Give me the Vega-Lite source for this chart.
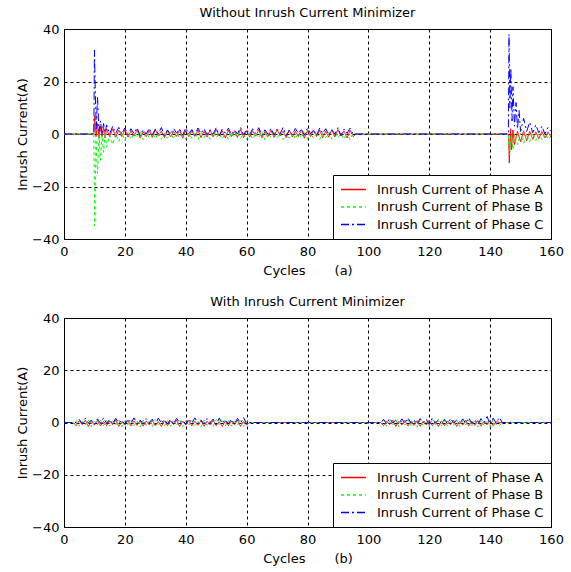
{
"$schema":"https://vega.github.io/schema/vega-lite/v6.json",
"background":"white",
"padding":{"left":16,"top":6,"right":14,"bottom":5},
"config":{
"font":"DejaVu Sans",
"view":{"stroke":"black","strokeWidth":1},
"axis":{"domain":false,"ticks":false,"grid":true,"gridColor":"black","gridDash":[3,3],"gridOpacity":1,"gridWidth":1,"labelFontSize":13,"labelColor":"black","titleFontSize":13,"titleFontWeight":"normal","titleColor":"black","labelFont":"DejaVu Sans","titleFont":"DejaVu Sans","labelFlush":false},
"title":{"fontSize":13,"fontWeight":"normal","color":"black","offset":3,"font":"DejaVu Sans"},
"legend":{"title":null,"orient":"bottom-right","offset":0,"symbolType":"stroke","symbolSize":625,"symbolStrokeWidth":1.5,"strokeColor":"black","fillColor":"white","padding":7,"labelFontSize":13,"labelColor":"black","labelFont":"DejaVu Sans","labelLimit":0,"clipHeight":15,"rowPadding":2.5,"labelOffset":10,"cornerRadius":0},
"concat":{"spacing":17}
},
"datasets":{
"a":[
{"s":"A","x":0,"y":0},{"s":"A","x":9.8,"y":0},{"s":"A","x":10.1,"y":7},{"s":"A","x":10.5,"y":-1},{"s":"A","x":11,"y":4},{"s":"A","x":11.5,"y":-1.5},{"s":"A","x":12,"y":3},{"s":"A","x":12.5,"y":-1},{"s":"A","x":13,"y":2.5},{"s":"A","x":13.5,"y":-1.5},{"s":"A","x":14,"y":2},{"s":"A","x":15,"y":-1},{"s":"A","x":16,"y":2},{"s":"A","x":17,"y":-1.2},{"s":"A","x":18,"y":1.5},{"s":"A","x":19,"y":-1},{"s":"A","x":20,"y":1.6},
{"s":"A","x":21,"y":-1.2},{"s":"A","x":22,"y":1.2},{"s":"A","x":23,"y":-0.8},{"s":"A","x":24,"y":1.6},{"s":"A","x":25,"y":-1.5},{"s":"A","x":26,"y":0.9},{"s":"A","x":27,"y":-1.0},{"s":"A","x":28,"y":1.4},{"s":"A","x":29,"y":-1.3},{"s":"A","x":30,"y":1.8},{"s":"A","x":31,"y":-0.7},{"s":"A","x":32,"y":1.1},{"s":"A","x":33,"y":-1.4},{"s":"A","x":34,"y":1.5},{"s":"A","x":35,"y":-1.1},{"s":"A","x":36,"y":1.0},{"s":"A","x":37,"y":-0.9},{"s":"A","x":38,"y":1.7},{"s":"A","x":39,"y":-1.6},{"s":"A","x":40,"y":1.3},
{"s":"A","x":41,"y":-1.0},{"s":"A","x":42,"y":1.3},{"s":"A","x":43,"y":-0.9},{"s":"A","x":44,"y":1.5},{"s":"A","x":45,"y":-1.4},{"s":"A","x":46,"y":1.0},{"s":"A","x":47,"y":-1.2},{"s":"A","x":48,"y":1.6},{"s":"A","x":49,"y":-1.1},{"s":"A","x":50,"y":1.7},{"s":"A","x":51,"y":-0.8},{"s":"A","x":52,"y":1.2},{"s":"A","x":53,"y":-1.5},{"s":"A","x":54,"y":1.4},{"s":"A","x":55,"y":-1.0},{"s":"A","x":56,"y":1.1},{"s":"A","x":57,"y":-1.3},{"s":"A","x":58,"y":1.8},{"s":"A","x":59,"y":-1.4},{"s":"A","x":60,"y":1.2},
{"s":"A","x":61,"y":-1.2},{"s":"A","x":62,"y":1.2},{"s":"A","x":63,"y":-0.8},{"s":"A","x":64,"y":1.6},{"s":"A","x":65,"y":-1.5},{"s":"A","x":66,"y":0.9},{"s":"A","x":67,"y":-1.0},{"s":"A","x":68,"y":1.4},{"s":"A","x":69,"y":-1.3},{"s":"A","x":70,"y":1.8},{"s":"A","x":71,"y":-0.7},{"s":"A","x":72,"y":1.1},{"s":"A","x":73,"y":-1.4},{"s":"A","x":74,"y":1.5},{"s":"A","x":75,"y":-1.1},{"s":"A","x":76,"y":1.0},{"s":"A","x":77,"y":-0.9},{"s":"A","x":78,"y":1.7},{"s":"A","x":79,"y":-1.6},{"s":"A","x":80,"y":1.3},
{"s":"A","x":81,"y":-1.0},{"s":"A","x":82,"y":1.3},{"s":"A","x":83,"y":-0.9},{"s":"A","x":84,"y":1.5},{"s":"A","x":85,"y":-1.4},{"s":"A","x":86,"y":1.0},{"s":"A","x":87,"y":-1.2},{"s":"A","x":88,"y":1.6},{"s":"A","x":89,"y":-1.1},{"s":"A","x":90,"y":1.7},{"s":"A","x":91,"y":-0.8},{"s":"A","x":92,"y":1.2},{"s":"A","x":93,"y":-1.5},{"s":"A","x":94,"y":1.4},{"s":"A","x":95,"y":-1.0},
{"s":"A","x":96,"y":0},{"s":"A","x":146,"y":0},{"s":"A","x":146.3,"y":-11},{"s":"A","x":146.7,"y":2},{"s":"A","x":147,"y":-6},{"s":"A","x":147.5,"y":1.5},{"s":"A","x":148,"y":-4},{"s":"A","x":149,"y":1},{"s":"A","x":150,"y":-3},{"s":"A","x":151,"y":1.2},{"s":"A","x":152,"y":-2.5},{"s":"A","x":153,"y":1},{"s":"A","x":154,"y":-2},{"s":"A","x":155,"y":0.8},{"s":"A","x":156,"y":-1.8},{"s":"A","x":157,"y":1},{"s":"A","x":158,"y":-1.5},{"s":"A","x":159,"y":0.8},{"s":"A","x":160,"y":-1.2},

{"s":"B","x":0,"y":0},{"s":"B","x":9.8,"y":0},{"s":"B","x":10.1,"y":-35},{"s":"B","x":10.5,"y":-2},{"s":"B","x":11,"y":-15},{"s":"B","x":11.5,"y":0},{"s":"B","x":12,"y":-10},{"s":"B","x":12.5,"y":-0.5},{"s":"B","x":13,"y":-7},{"s":"B","x":13.5,"y":0.5},{"s":"B","x":14,"y":-5},{"s":"B","x":15,"y":-0.5},{"s":"B","x":16,"y":-4},{"s":"B","x":17,"y":0},{"s":"B","x":18,"y":-3},{"s":"B","x":19,"y":0.5},{"s":"B","x":20,"y":-2.5},
{"s":"B","x":21,"y":0.6},{"s":"B","x":22,"y":-2.0},{"s":"B","x":23,"y":0.3},{"s":"B","x":24,"y":-1.5},{"s":"B","x":25,"y":0.9},{"s":"B","x":26,"y":-2.2},{"s":"B","x":27,"y":0.4},{"s":"B","x":28,"y":-1.3},{"s":"B","x":29,"y":0.8},{"s":"B","x":30,"y":-1.8},{"s":"B","x":31,"y":0.5},{"s":"B","x":32,"y":-2.1},{"s":"B","x":33,"y":0.2},{"s":"B","x":34,"y":-1.6},{"s":"B","x":35,"y":0.7},{"s":"B","x":36,"y":-1.9},{"s":"B","x":37,"y":0.4},{"s":"B","x":38,"y":-1.4},{"s":"B","x":39,"y":1.0},{"s":"B","x":40,"y":-2.0},
{"s":"B","x":41,"y":0.4},{"s":"B","x":42,"y":-1.7},{"s":"B","x":43,"y":0.8},{"s":"B","x":44,"y":-2.1},{"s":"B","x":45,"y":0.3},{"s":"B","x":46,"y":-1.4},{"s":"B","x":47,"y":0.6},{"s":"B","x":48,"y":-2.0},{"s":"B","x":49,"y":0.9},{"s":"B","x":50,"y":-1.5},{"s":"B","x":51,"y":0.2},{"s":"B","x":52,"y":-1.9},{"s":"B","x":53,"y":0.7},{"s":"B","x":54,"y":-2.2},{"s":"B","x":55,"y":0.5},{"s":"B","x":56,"y":-1.3},{"s":"B","x":57,"y":0.8},{"s":"B","x":58,"y":-1.8},{"s":"B","x":59,"y":0.3},{"s":"B","x":60,"y":-2.1},
{"s":"B","x":61,"y":0.6},{"s":"B","x":62,"y":-2.0},{"s":"B","x":63,"y":0.3},{"s":"B","x":64,"y":-1.5},{"s":"B","x":65,"y":0.9},{"s":"B","x":66,"y":-2.2},{"s":"B","x":67,"y":0.4},{"s":"B","x":68,"y":-1.3},{"s":"B","x":69,"y":0.8},{"s":"B","x":70,"y":-1.8},{"s":"B","x":71,"y":0.5},{"s":"B","x":72,"y":-2.1},{"s":"B","x":73,"y":0.2},{"s":"B","x":74,"y":-1.6},{"s":"B","x":75,"y":0.7},{"s":"B","x":76,"y":-1.9},{"s":"B","x":77,"y":0.4},{"s":"B","x":78,"y":-1.4},{"s":"B","x":79,"y":1.0},{"s":"B","x":80,"y":-2.0},
{"s":"B","x":81,"y":0.4},{"s":"B","x":82,"y":-1.7},{"s":"B","x":83,"y":0.8},{"s":"B","x":84,"y":-2.1},{"s":"B","x":85,"y":0.3},{"s":"B","x":86,"y":-1.4},{"s":"B","x":87,"y":0.6},{"s":"B","x":88,"y":-2.0},{"s":"B","x":89,"y":0.9},{"s":"B","x":90,"y":-1.5},{"s":"B","x":91,"y":0.2},{"s":"B","x":92,"y":-1.9},{"s":"B","x":93,"y":0.7},{"s":"B","x":94,"y":-2.2},{"s":"B","x":95,"y":0.5},
{"s":"B","x":96,"y":0},{"s":"B","x":146,"y":0},{"s":"B","x":146.4,"y":-8},{"s":"B","x":147,"y":-0.5},{"s":"B","x":147.5,"y":-6},{"s":"B","x":148,"y":0},{"s":"B","x":149,"y":-4},{"s":"B","x":150,"y":0.3},{"s":"B","x":151,"y":-3.5},{"s":"B","x":152,"y":0},{"s":"B","x":153,"y":-3},{"s":"B","x":154,"y":0.5},{"s":"B","x":155,"y":-2.5},{"s":"B","x":156,"y":0},{"s":"B","x":157,"y":-2.2},{"s":"B","x":158,"y":0.3},{"s":"B","x":159,"y":-2},{"s":"B","x":160,"y":-1},

{"s":"C","x":0,"y":0},{"s":"C","x":9.8,"y":0},{"s":"C","x":10,"y":32},{"s":"C","x":10.3,"y":15},{"s":"C","x":10.6,"y":2},{"s":"C","x":11,"y":14},{"s":"C","x":11.5,"y":1},{"s":"C","x":12,"y":5},{"s":"C","x":12.5,"y":0},{"s":"C","x":13,"y":4},{"s":"C","x":13.5,"y":0.5},{"s":"C","x":14,"y":3.5},{"s":"C","x":15,"y":0},{"s":"C","x":16,"y":3},{"s":"C","x":17,"y":0.3},{"s":"C","x":18,"y":2.5},{"s":"C","x":19,"y":0},{"s":"C","x":20,"y":2.3},
{"s":"C","x":21,"y":-0.3},{"s":"C","x":22,"y":2.0},{"s":"C","x":23,"y":0.2},{"s":"C","x":24,"y":2.4},{"s":"C","x":25,"y":-0.6},{"s":"C","x":26,"y":1.6},{"s":"C","x":27,"y":0.0},{"s":"C","x":28,"y":2.2},{"s":"C","x":29,"y":-0.4},{"s":"C","x":30,"y":1.8},{"s":"C","x":31,"y":0.1},{"s":"C","x":32,"y":2.5},{"s":"C","x":33,"y":-0.7},{"s":"C","x":34,"y":1.5},{"s":"C","x":35,"y":-0.2},{"s":"C","x":36,"y":2.1},{"s":"C","x":37,"y":0.3},{"s":"C","x":38,"y":1.9},{"s":"C","x":39,"y":-0.5},{"s":"C","x":40,"y":2.3},
{"s":"C","x":41,"y":0.1},{"s":"C","x":42,"y":1.7},{"s":"C","x":43,"y":-0.5},{"s":"C","x":44,"y":2.3},{"s":"C","x":45,"y":0.2},{"s":"C","x":46,"y":2.0},{"s":"C","x":47,"y":-0.3},{"s":"C","x":48,"y":1.6},{"s":"C","x":49,"y":0.0},{"s":"C","x":50,"y":2.4},{"s":"C","x":51,"y":-0.6},{"s":"C","x":52,"y":1.9},{"s":"C","x":53,"y":0.3},{"s":"C","x":54,"y":2.2},{"s":"C","x":55,"y":-0.2},{"s":"C","x":56,"y":1.5},{"s":"C","x":57,"y":0.1},{"s":"C","x":58,"y":2.5},{"s":"C","x":59,"y":-0.4},{"s":"C","x":60,"y":1.8},
{"s":"C","x":61,"y":-0.3},{"s":"C","x":62,"y":2.0},{"s":"C","x":63,"y":0.2},{"s":"C","x":64,"y":2.4},{"s":"C","x":65,"y":-0.6},{"s":"C","x":66,"y":1.6},{"s":"C","x":67,"y":0.0},{"s":"C","x":68,"y":2.2},{"s":"C","x":69,"y":-0.4},{"s":"C","x":70,"y":1.8},{"s":"C","x":71,"y":0.1},{"s":"C","x":72,"y":2.5},{"s":"C","x":73,"y":-0.7},{"s":"C","x":74,"y":1.5},{"s":"C","x":75,"y":-0.2},{"s":"C","x":76,"y":2.1},{"s":"C","x":77,"y":0.3},{"s":"C","x":78,"y":1.9},{"s":"C","x":79,"y":-0.5},{"s":"C","x":80,"y":2.3},
{"s":"C","x":81,"y":0.1},{"s":"C","x":82,"y":1.7},{"s":"C","x":83,"y":-0.5},{"s":"C","x":84,"y":2.3},{"s":"C","x":85,"y":0.2},{"s":"C","x":86,"y":2.0},{"s":"C","x":87,"y":-0.3},{"s":"C","x":88,"y":1.6},{"s":"C","x":89,"y":0.0},{"s":"C","x":90,"y":2.4},{"s":"C","x":91,"y":-0.6},{"s":"C","x":92,"y":1.9},{"s":"C","x":93,"y":0.3},{"s":"C","x":94,"y":2.2},{"s":"C","x":95,"y":-0.2},
{"s":"C","x":96,"y":0},{"s":"C","x":146,"y":0},{"s":"C","x":146.2,"y":38},{"s":"C","x":146.5,"y":10},{"s":"C","x":146.8,"y":25},{"s":"C","x":147.2,"y":5},{"s":"C","x":147.5,"y":18},{"s":"C","x":148,"y":3},{"s":"C","x":148.5,"y":12},{"s":"C","x":149,"y":2},{"s":"C","x":149.5,"y":9},{"s":"C","x":150,"y":1},{"s":"C","x":151,"y":6},{"s":"C","x":152,"y":1},{"s":"C","x":153,"y":4.5},{"s":"C","x":154,"y":0.5},{"s":"C","x":155,"y":3.5},{"s":"C","x":156,"y":0.5},{"s":"C","x":157,"y":3},{"s":"C","x":158,"y":0},{"s":"C","x":159,"y":2.5},{"s":"C","x":160,"y":1}
],
"b":[
{"s":"A","x":0,"y":0},{"s":"A","x":3,"y":0},
{"s":"A","x":4,"y":-1.2},{"s":"A","x":5,"y":0.6},{"s":"A","x":6,"y":-0.8},{"s":"A","x":7,"y":0.9},{"s":"A","x":8,"y":-1.5},{"s":"A","x":9,"y":0.4},{"s":"A","x":10,"y":-1.0},{"s":"A","x":11,"y":0.8},{"s":"A","x":12,"y":-1.3},{"s":"A","x":13,"y":0.5},
{"s":"A","x":14,"y":-1.2},{"s":"A","x":15,"y":0.6},{"s":"A","x":16,"y":-0.8},{"s":"A","x":17,"y":0.9},{"s":"A","x":18,"y":-1.5},{"s":"A","x":19,"y":0.4},{"s":"A","x":20,"y":-1.0},{"s":"A","x":21,"y":0.8},{"s":"A","x":22,"y":-1.3},{"s":"A","x":23,"y":0.5},
{"s":"A","x":24,"y":-1.1},{"s":"A","x":25,"y":0.7},{"s":"A","x":26,"y":-1.4},{"s":"A","x":27,"y":0.5},{"s":"A","x":28,"y":-0.9},{"s":"A","x":29,"y":0.8},{"s":"A","x":30,"y":-1.2},{"s":"A","x":31,"y":0.3},{"s":"A","x":32,"y":-1.5},{"s":"A","x":33,"y":0.6},
{"s":"A","x":34,"y":-1.2},{"s":"A","x":35,"y":0.6},{"s":"A","x":36,"y":-0.8},{"s":"A","x":37,"y":0.9},{"s":"A","x":38,"y":-1.5},{"s":"A","x":39,"y":0.4},{"s":"A","x":40,"y":-1.0},{"s":"A","x":41,"y":0.8},{"s":"A","x":42,"y":-1.3},{"s":"A","x":43,"y":0.5},
{"s":"A","x":44,"y":-1.1},{"s":"A","x":45,"y":0.7},{"s":"A","x":46,"y":-1.4},{"s":"A","x":47,"y":0.5},{"s":"A","x":48,"y":-0.9},{"s":"A","x":49,"y":0.8},{"s":"A","x":50,"y":-1.2},{"s":"A","x":51,"y":0.3},{"s":"A","x":52,"y":-1.5},{"s":"A","x":53,"y":0.6},
{"s":"A","x":54,"y":-1.2},{"s":"A","x":55,"y":0.6},{"s":"A","x":56,"y":-0.8},{"s":"A","x":57,"y":0.9},{"s":"A","x":58,"y":-1.5},{"s":"A","x":59,"y":0.4},{"s":"A","x":60,"y":-1.0},
{"s":"A","x":61,"y":0},{"s":"A","x":104,"y":0},
{"s":"A","x":105,"y":-1.2},{"s":"A","x":106,"y":0.6},{"s":"A","x":107,"y":-0.8},{"s":"A","x":108,"y":0.9},{"s":"A","x":109,"y":-1.5},{"s":"A","x":110,"y":0.4},{"s":"A","x":111,"y":-1.0},{"s":"A","x":112,"y":0.8},{"s":"A","x":113,"y":-1.3},{"s":"A","x":114,"y":0.5},
{"s":"A","x":115,"y":-1.1},{"s":"A","x":116,"y":0.7},{"s":"A","x":117,"y":-1.4},{"s":"A","x":118,"y":0.5},{"s":"A","x":119,"y":-0.9},{"s":"A","x":120,"y":0.8},{"s":"A","x":121,"y":-1.2},{"s":"A","x":122,"y":0.3},{"s":"A","x":123,"y":-1.5},{"s":"A","x":124,"y":0.6},
{"s":"A","x":125,"y":-1.2},{"s":"A","x":126,"y":0.6},{"s":"A","x":127,"y":-0.8},{"s":"A","x":128,"y":0.9},{"s":"A","x":129,"y":-1.5},{"s":"A","x":130,"y":0.4},{"s":"A","x":131,"y":-1.0},{"s":"A","x":132,"y":0.8},{"s":"A","x":133,"y":-1.3},{"s":"A","x":134,"y":0.5},
{"s":"A","x":135,"y":-1.1},{"s":"A","x":136,"y":0.7},{"s":"A","x":137,"y":-1.4},{"s":"A","x":138,"y":0.5},{"s":"A","x":139,"y":-0.9},{"s":"A","x":140,"y":0.8},{"s":"A","x":141,"y":-1.2},{"s":"A","x":142,"y":0.3},
{"s":"A","x":143,"y":0},{"s":"A","x":160,"y":0},

{"s":"B","x":0,"y":0},{"s":"B","x":3.5,"y":0},
{"s":"B","x":4,"y":0.8},{"s":"B","x":5,"y":-1.4},{"s":"B","x":6,"y":0.4},{"s":"B","x":7,"y":-1.0},{"s":"B","x":8,"y":1.0},{"s":"B","x":9,"y":-1.6},{"s":"B","x":10,"y":0.6},{"s":"B","x":11,"y":-0.9},{"s":"B","x":12,"y":0.9},{"s":"B","x":13,"y":-1.2},
{"s":"B","x":14,"y":0.8},{"s":"B","x":15,"y":-1.4},{"s":"B","x":16,"y":0.4},{"s":"B","x":17,"y":-1.0},{"s":"B","x":18,"y":1.0},{"s":"B","x":19,"y":-1.6},{"s":"B","x":20,"y":0.6},{"s":"B","x":21,"y":-0.9},{"s":"B","x":22,"y":0.9},{"s":"B","x":23,"y":-1.2},
{"s":"B","x":24,"y":0.5},{"s":"B","x":25,"y":-1.7},{"s":"B","x":26,"y":0.9},{"s":"B","x":27,"y":-1.1},{"s":"B","x":28,"y":0.3},{"s":"B","x":29,"y":-1.5},{"s":"B","x":30,"y":1.1},{"s":"B","x":31,"y":-0.8},{"s":"B","x":32,"y":0.7},{"s":"B","x":33,"y":-1.3},
{"s":"B","x":34,"y":0.8},{"s":"B","x":35,"y":-1.4},{"s":"B","x":36,"y":0.4},{"s":"B","x":37,"y":-1.0},{"s":"B","x":38,"y":1.0},{"s":"B","x":39,"y":-1.6},{"s":"B","x":40,"y":0.6},{"s":"B","x":41,"y":-0.9},{"s":"B","x":42,"y":0.9},{"s":"B","x":43,"y":-1.2},
{"s":"B","x":44,"y":0.5},{"s":"B","x":45,"y":-1.7},{"s":"B","x":46,"y":0.9},{"s":"B","x":47,"y":-1.1},{"s":"B","x":48,"y":0.3},{"s":"B","x":49,"y":-1.5},{"s":"B","x":50,"y":1.1},{"s":"B","x":51,"y":-0.8},{"s":"B","x":52,"y":0.7},{"s":"B","x":53,"y":-1.3},
{"s":"B","x":54,"y":0.8},{"s":"B","x":55,"y":-1.4},{"s":"B","x":56,"y":0.4},{"s":"B","x":57,"y":-1.0},{"s":"B","x":58,"y":1.0},{"s":"B","x":59,"y":-1.6},{"s":"B","x":60,"y":0.6},
{"s":"B","x":61,"y":0},{"s":"B","x":104,"y":0},
{"s":"B","x":105,"y":0.8},{"s":"B","x":106,"y":-1.4},{"s":"B","x":107,"y":0.4},{"s":"B","x":108,"y":-1.0},{"s":"B","x":109,"y":1.0},{"s":"B","x":110,"y":-1.6},{"s":"B","x":111,"y":0.6},{"s":"B","x":112,"y":-0.9},{"s":"B","x":113,"y":0.9},{"s":"B","x":114,"y":-1.2},
{"s":"B","x":115,"y":0.5},{"s":"B","x":116,"y":-1.7},{"s":"B","x":117,"y":0.9},{"s":"B","x":118,"y":-1.1},{"s":"B","x":119,"y":0.3},{"s":"B","x":120,"y":-1.5},{"s":"B","x":121,"y":1.1},{"s":"B","x":122,"y":-0.8},{"s":"B","x":123,"y":0.7},{"s":"B","x":124,"y":-1.3},
{"s":"B","x":125,"y":0.8},{"s":"B","x":126,"y":-1.4},{"s":"B","x":127,"y":0.4},{"s":"B","x":128,"y":-1.0},{"s":"B","x":129,"y":1.0},{"s":"B","x":130,"y":-1.6},{"s":"B","x":131,"y":0.6},{"s":"B","x":132,"y":-0.9},{"s":"B","x":133,"y":0.9},{"s":"B","x":134,"y":-1.2},
{"s":"B","x":135,"y":0.5},{"s":"B","x":136,"y":-1.7},{"s":"B","x":137,"y":0.9},{"s":"B","x":138,"y":-1.1},{"s":"B","x":139,"y":0.3},{"s":"B","x":140,"y":-1.5},{"s":"B","x":141,"y":1.1},{"s":"B","x":142,"y":-0.8},{"s":"B","x":143,"y":-1.3},
{"s":"B","x":144,"y":0},{"s":"B","x":160,"y":0},

{"s":"C","x":0,"y":0},{"s":"C","x":4,"y":0},
{"s":"C","x":5,"y":1.2},{"s":"C","x":6,"y":-0.5},{"s":"C","x":7,"y":1.6},{"s":"C","x":8,"y":-0.2},{"s":"C","x":9,"y":0.9},{"s":"C","x":10,"y":-0.7},{"s":"C","x":11,"y":1.4},{"s":"C","x":12,"y":-0.3},{"s":"C","x":13,"y":1.8},{"s":"C","x":14,"y":-0.4},
{"s":"C","x":15,"y":1.2},{"s":"C","x":16,"y":-0.5},{"s":"C","x":17,"y":1.6},{"s":"C","x":18,"y":-0.2},{"s":"C","x":19,"y":0.9},{"s":"C","x":20,"y":-0.7},{"s":"C","x":21,"y":1.4},{"s":"C","x":22,"y":-0.3},{"s":"C","x":23,"y":1.8},{"s":"C","x":24,"y":-0.4},
{"s":"C","x":25,"y":1.0},{"s":"C","x":26,"y":-0.6},{"s":"C","x":27,"y":1.5},{"s":"C","x":28,"y":-0.1},{"s":"C","x":29,"y":1.3},{"s":"C","x":30,"y":-0.8},{"s":"C","x":31,"y":1.7},{"s":"C","x":32,"y":-0.3},{"s":"C","x":33,"y":1.1},{"s":"C","x":34,"y":-0.5},
{"s":"C","x":35,"y":1.2},{"s":"C","x":36,"y":-0.5},{"s":"C","x":37,"y":1.6},{"s":"C","x":38,"y":-0.2},{"s":"C","x":39,"y":0.9},{"s":"C","x":40,"y":-0.7},{"s":"C","x":41,"y":1.4},{"s":"C","x":42,"y":-0.3},{"s":"C","x":43,"y":1.8},{"s":"C","x":44,"y":-0.4},
{"s":"C","x":45,"y":1.0},{"s":"C","x":46,"y":-0.6},{"s":"C","x":47,"y":1.5},{"s":"C","x":48,"y":-0.1},{"s":"C","x":49,"y":1.3},{"s":"C","x":50,"y":-0.8},{"s":"C","x":51,"y":1.7},{"s":"C","x":52,"y":-0.3},{"s":"C","x":53,"y":1.1},{"s":"C","x":54,"y":-0.5},
{"s":"C","x":55,"y":1.2},{"s":"C","x":56,"y":-0.5},{"s":"C","x":57,"y":1.6},{"s":"C","x":58,"y":-0.2},{"s":"C","x":59,"y":1.9},{"s":"C","x":60,"y":-0.7},
{"s":"C","x":61,"y":0},{"s":"C","x":104,"y":0},
{"s":"C","x":105,"y":1.2},{"s":"C","x":106,"y":-0.5},{"s":"C","x":107,"y":1.6},{"s":"C","x":108,"y":-0.2},{"s":"C","x":109,"y":0.9},{"s":"C","x":110,"y":-0.7},{"s":"C","x":111,"y":1.4},{"s":"C","x":112,"y":-0.3},{"s":"C","x":113,"y":1.8},{"s":"C","x":114,"y":-0.4},
{"s":"C","x":115,"y":1.0},{"s":"C","x":116,"y":-0.6},{"s":"C","x":117,"y":1.5},{"s":"C","x":118,"y":-0.1},{"s":"C","x":119,"y":1.3},{"s":"C","x":120,"y":-0.8},{"s":"C","x":121,"y":1.7},{"s":"C","x":122,"y":-0.3},{"s":"C","x":123,"y":1.1},{"s":"C","x":124,"y":-0.5},
{"s":"C","x":125,"y":1.2},{"s":"C","x":126,"y":-0.5},{"s":"C","x":127,"y":1.6},{"s":"C","x":128,"y":-0.2},{"s":"C","x":129,"y":0.9},{"s":"C","x":130,"y":-0.7},{"s":"C","x":131,"y":1.4},{"s":"C","x":132,"y":-0.3},{"s":"C","x":133,"y":1.8},{"s":"C","x":134,"y":-0.4},
{"s":"C","x":135,"y":1.0},{"s":"C","x":136,"y":-0.6},{"s":"C","x":137,"y":1.5},{"s":"C","x":138,"y":-0.1},{"s":"C","x":139,"y":2.3},{"s":"C","x":140,"y":-0.8},{"s":"C","x":141,"y":1.7},{"s":"C","x":142,"y":-0.3},{"s":"C","x":143,"y":1.9},
{"s":"C","x":144,"y":0},{"s":"C","x":160,"y":0}
]
},
"vconcat":[
{
"title":"Without Inrush Current Minimizer",
"width":487,"height":210,
"data":{"name":"a"},
"mark":{"type":"line","strokeWidth":1,"clip":true},
"encoding":{
"x":{"field":"x","type":"quantitative","scale":{"domain":[0,160],"nice":false},"axis":{"values":[0,20,40,60,80,100,120,140,160],"title":"Cycles\u00a0\u00a0\u00a0\u00a0\u00a0\u00a0\u00a0(a)","labelPadding":6,"titlePadding":6}},
"y":{"field":"y","type":"quantitative","scale":{"domain":[-40,40],"nice":false},"axis":{"values":[-40,-20,0,20,40],"title":"Inrush Current(A)","labelPadding":5,"titlePadding":2}},
"color":{"field":"s","type":"nominal","scale":{"domain":["A","B","C"],"range":["#ff0000","#00ff00","#0000ff"]},"legend":{"labelExpr":"'Inrush Current of Phase ' + datum.label"}},
"strokeDash":{"field":"s","type":"nominal","scale":{"domain":["A","B","C"],"range":[[1,0],[3,3],[8,3,2,3]]},"legend":{"labelExpr":"'Inrush Current of Phase ' + datum.label"}}
}
},
{
"title":"With Inrush Current Minimizer",
"width":487,"height":209,
"data":{"name":"b"},
"mark":{"type":"line","strokeWidth":1,"clip":true},
"encoding":{
"x":{"field":"x","type":"quantitative","scale":{"domain":[0,160],"nice":false},"axis":{"values":[0,20,40,60,80,100,120,140,160],"title":"Cycles\u00a0\u00a0\u00a0\u00a0\u00a0\u00a0\u00a0(b)","labelPadding":6,"titlePadding":6}},
"y":{"field":"y","type":"quantitative","scale":{"domain":[-40,40],"nice":false},"axis":{"values":[-40,-20,0,20,40],"title":"Inrush Current(A)","labelPadding":5,"titlePadding":2}},
"color":{"field":"s","type":"nominal","scale":{"domain":["A","B","C"],"range":["#ff0000","#00ff00","#0000ff"]},"legend":{"labelExpr":"'Inrush Current of Phase ' + datum.label"}},
"strokeDash":{"field":"s","type":"nominal","scale":{"domain":["A","B","C"],"range":[[1,0],[3,3],[8,3,2,3]]},"legend":{"labelExpr":"'Inrush Current of Phase ' + datum.label"}}
}
}
],
"resolve":{"scale":{"color":"independent","strokeDash":"independent"},"legend":{"color":"independent","strokeDash":"independent"}}
}
